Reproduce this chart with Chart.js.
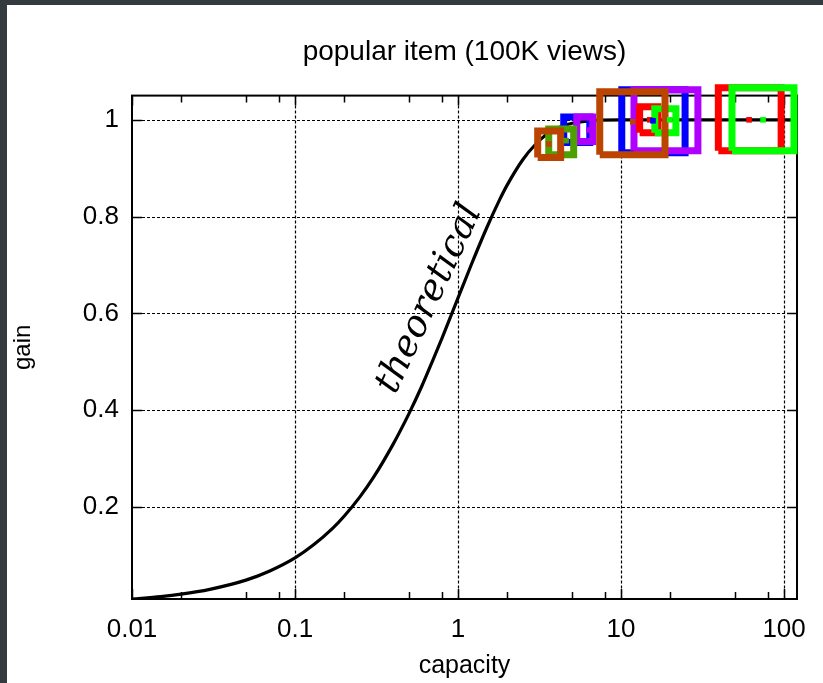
<!DOCTYPE html>
<html>
<head>
<meta charset="utf-8">
<script src="https://cdn.jsdelivr.net/npm/chart.js@4.4.1/dist/chart.umd.min.js"></script>
<style>
  html, body { margin: 0; padding: 0; background: #343b3e; }
  #wrap { position: absolute; left: 7px; top: 5px; width: 816px; height: 678px; background: #fff; }
</style>
</head>
<body>
<div id="wrap"><canvas id="myChart"></canvas></div>
<script>
// theoretical curve
const capacity = [0.01, 0.015, 0.02, 0.03, 0.05, 0.07, 0.1, 0.13, 0.17, 0.2, 0.25, 0.3, 0.4, 0.5, 0.6, 0.7, 0.8, 1, 1.2, 1.5, 1.8, 2, 2.5, 3, 3.5, 4, 5, 7, 10, 120];
const gainTheory = [0.01, 0.015, 0.02, 0.03, 0.049, 0.068, 0.095, 0.122, 0.156, 0.181, 0.221, 0.259, 0.33, 0.393, 0.45, 0.503, 0.55, 0.632, 0.699, 0.777, 0.835, 0.865, 0.918, 0.95, 0.97, 0.982, 0.993, 0.999, 1, 1];

// measured boxes (bottom layer first)
const boxColor = ["#0000ff", "#b000ff", "#4ca000", "#bb4400", "#0000ff", "#b000ff", "#ff0000", "#00ff00", "#bb4400", "#ff0000", "#00ff00"];
const boxXLow  = [4.45, 5.35, 3.60, 3.08, 10.1, 12.0, 13.0, 16.1, 7.40, 39.5, 47.9];
const boxXHigh = [6.43, 6.70, 5.12, 4.26, 24.7, 29.6, 16.8, 21.7, 18.6, 95.9, 115];
const boxYLow  = [0.953, 0.955, 0.928, 0.922, 0.932, 0.936, 0.973, 0.973, 0.928, 0.936, 0.936];
const boxYHigh = [1.006, 1.006, 0.981, 0.977, 1.062, 1.062, 1.027, 1.023, 1.058, 1.066, 1.066];

// centre marks of the boxes
const dotX = [3.6, 4.6, 6.34, 11.8, 15.0, 15.7, 19.9, 61, 74.3];
const dotY = [0.95, 0.957, 0.979, 0.996, 1.0, 0.998, 1.0, 1.0, 1.0];
const dotColor = ["#bb4400", "#4ca000", "#b000ff", "#bb4400", "#ff0000", "#0000ff", "#00ff00", "#ff0000", "#00ff00"];

// axes
const xMajor = [0.01, 0.1, 1, 10, 100];
const xMinor = [0.02, 0.05, 0.08, 0.2, 0.5, 0.8, 2, 5, 8, 20, 50, 80];
const yMajor = [0.2, 0.4, 0.6, 0.8, 1];

// text label on the curve
const curveLabel = "theoretical";
const curveLabelAt = { x: 0.67, y: 0.63 };

const sansFont = "'Liberation Sans', Arial, sans-serif";

const frameGrid = {
  id: "frameGrid",
  beforeDatasetsDraw(chart) {
    const { ctx, chartArea: a, scales: { x, y } } = chart;
    ctx.save();
    ctx.strokeStyle = "#000";
    // dotted grid
    ctx.lineWidth = 1.2;
    ctx.setLineDash([3, 2]);
    ctx.beginPath();
    xMajor.slice(1).forEach((v) => {
      const px = Math.round(x.getPixelForValue(v)) + 0.5;
      if (px < a.right - 2) { ctx.moveTo(px, a.top); ctx.lineTo(px, a.bottom); }
    });
    yMajor.forEach((v) => {
      const py = Math.round(y.getPixelForValue(v)) + 0.5;
      ctx.moveTo(a.left, py); ctx.lineTo(a.right, py);
    });
    ctx.stroke();
    // ticks
    ctx.setLineDash([]);
    ctx.lineWidth = 1.5;
    ctx.beginPath();
    xMajor.concat(xMinor).forEach((v) => {
      const len = xMajor.includes(v) ? 10 : 7;
      const px = Math.round(x.getPixelForValue(v)) + 0.5;
      ctx.moveTo(px, a.bottom); ctx.lineTo(px, a.bottom - len);
      ctx.moveTo(px, a.top); ctx.lineTo(px, a.top + len);
    });
    yMajor.forEach((v) => {
      const py = Math.round(y.getPixelForValue(v)) + 0.5;
      ctx.moveTo(a.left, py); ctx.lineTo(a.left + 10, py);
      ctx.moveTo(a.right, py); ctx.lineTo(a.right - 10, py);
    });
    ctx.stroke();
    // frame
    ctx.lineWidth = 2;
    ctx.strokeRect(a.left, a.top, a.right - a.left, a.bottom - a.top);
    ctx.restore();
  },
  afterDatasetsDraw(chart) {
    const { ctx, scales: { x, y } } = chart;
    ctx.save();
    ctx.translate(x.getPixelForValue(curveLabelAt.x), y.getPixelForValue(curveLabelAt.y));
    ctx.rotate(-65 * Math.PI / 180);
    ctx.font = "italic 37px 'DejaVu Serif', serif";
    ctx.fillStyle = "#000";
    ctx.textAlign = "center";
    ctx.textBaseline = "middle";
    ctx.fillText(curveLabel, 0, 0);
    ctx.restore();
  }
};

// layered bottom to top, Chart.js paints the first dataset last
const layers = [];
layers.push({
  data: capacity.map((c, i) => ({ x: c, y: gainTheory[i] })),
  borderColor: "#000",
  borderWidth: 3.2,
  pointRadius: 0,
  cubicInterpolationMode: "monotone",
  fill: false
});
boxColor.forEach((col, i) => {
  layers.push({
    data: [
      { x: boxXLow[i], y: boxYLow[i] },
      { x: boxXHigh[i], y: boxYLow[i] },
      { x: boxXHigh[i], y: boxYHigh[i] },
      { x: boxXLow[i], y: boxYHigh[i] },
      { x: boxXLow[i], y: boxYLow[i] }
    ],
    borderColor: col,
    borderWidth: 7,
    borderJoinStyle: "miter",
    pointRadius: 0,
    tension: 0,
    fill: false,
    clip: false
  });
});
layers.push({
  data: dotX.map((v, i) => ({ x: v, y: dotY[i] })),
  showLine: false,
  pointStyle: "rect",
  pointRadius: 4,
  pointBorderWidth: 0,
  pointBackgroundColor: dotColor,
  clip: false
});

new Chart(document.getElementById("myChart").getContext("2d"), {
  type: "line",
  data: { datasets: layers.reverse() },
  options: {
    responsive: true,
    maintainAspectRatio: false,
    animation: false,
    layout: { padding: { left: 0, right: 26, top: 0, bottom: 0 } },
    plugins: {
      legend: { display: false },
      tooltip: { enabled: false },
      title: {
        display: true,
        fullSize: false,
        text: "popular item (100K views)",
        color: "#000",
        font: { family: sansFont, size: 28, weight: "normal" },
        padding: { top: 30, bottom: 27 }
      }
    },
    scales: {
      x: {
        type: "logarithmic",
        min: 0.01,
        max: 120,
        afterBuildTicks: (s) => { s.ticks = xMajor.map((v) => ({ value: v })); },
        afterFit: (s) => { s.height = 84; },
        ticks: {
          autoSkip: false,
          maxRotation: 0,
          padding: 15,
          color: "#000",
          font: { family: sansFont, size: 26 },
          callback: (v) => String(v)
        },
        grid: { display: false, drawTicks: false },
        border: { display: false },
        title: {
          display: true,
          text: "capacity",
          color: "#000",
          font: { family: sansFont, size: 25 },
          padding: { top: 0, bottom: 2 }
        }
      },
      y: {
        min: 0.01,
        max: 1.05,
        afterBuildTicks: (s) => { s.ticks = yMajor.map((v) => ({ value: v })); },
        afterFit: (s) => { s.width = 125; },
        ticks: {
          padding: 13,
          color: "#000",
          font: { family: sansFont, size: 26 },
          callback: (v) => String(v)
        },
        grid: { display: false, drawTicks: false },
        border: { display: false },
        title: {
          display: true,
          text: "gain",
          color: "#000",
          font: { family: sansFont, size: 24 },
          padding: { top: 2, bottom: 0 }
        }
      }
    }
  },
  plugins: [frameGrid]
});
</script>
</body>
</html>
